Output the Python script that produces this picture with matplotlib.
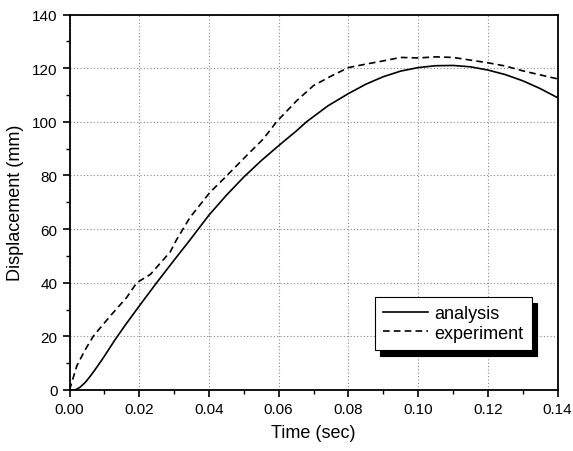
import matplotlib.pyplot as plt
import numpy as np

plt.rcParams['font.family'] = ['Liberation Sans', 'DejaVu Sans']

# analysis curve
t_an = [0.0, 0.0016, 0.003, 0.0045, 0.006, 0.008, 0.01, 0.0131, 0.016, 0.02, 0.025, 0.03,
        0.0346, 0.04, 0.045, 0.05, 0.055, 0.06, 0.065, 0.068, 0.0742, 0.08, 0.085,
        0.09, 0.095, 0.10, 0.105, 0.11, 0.115, 0.12, 0.125, 0.13, 0.135, 0.14]
d_an = [0.0, 0.0, 1.0, 2.8, 5.2, 8.8, 12.6, 18.8, 24.2, 31.3, 40.0, 48.4,
        56.0, 65.2, 72.6, 79.4, 85.5, 91.1, 96.5, 100.0, 106.0, 110.5, 114.0,
        116.8, 118.9, 120.2, 120.9, 121.0, 120.5, 119.3, 117.6, 115.3, 112.4, 109.0]

# experiment curve
t_ex = [0.0, 0.0021, 0.0045, 0.0069, 0.0117, 0.0164, 0.0193, 0.0232, 0.0289, 0.0307,
        0.0346, 0.0403, 0.0442, 0.047, 0.0508, 0.0556, 0.0594, 0.0652, 0.07, 0.075,
        0.08, 0.085, 0.09, 0.095, 0.10, 0.105, 0.11, 0.115, 0.12, 0.125, 0.13, 0.135, 0.14]
d_ex = [0.0, 9.0, 15.0, 20.2, 27.6, 34.5, 40.0, 43.1, 51.5, 56.0,
        64.4, 73.7, 78.7, 82.4, 87.4, 93.6, 100.0, 107.9, 113.5, 117.0,
        120.2, 121.5, 122.7, 124.0, 123.8, 124.2, 124.0, 123.0, 122.0, 120.8, 119.0, 117.5, 116.0]


def grafica():
    fig = plt.figure(figsize=(5.73, 4.52), dpi=100)
    ax = fig.add_axes([0.1213, 0.135, 0.8517, 0.8307])

    ax.plot(t_an, d_an, color='black', lw=1.2, label='analysis')
    ax.plot(t_ex, d_ex, color='black', lw=1.2, ls=(0, (4, 2.5)), label='experiment')

    ax.set_xlim(0, 0.14)
    ax.set_ylim(0, 140)
    ax.set_xticks(np.arange(0, 0.1401, 0.02))
    ax.set_xticks(np.arange(0, 0.1401, 0.01), minor=True)
    ax.set_yticks(np.arange(0, 141, 20))
    ax.set_yticks(np.arange(0, 141, 10), minor=True)
    ax.xaxis.set_major_formatter(plt.FormatStrFormatter('%.2f'))
    ax.tick_params(which='major', direction='out', length=5, width=1.2, labelsize=11)
    ax.tick_params(which='minor', direction='out', length=3, width=1.0)
    ax.grid(True, which='major', color='#888888', ls=(0, (1, 2)), lw=0.8)

    for s in ax.spines.values():
        s.set_linewidth(1.3)

    ax.set_xlabel('Time (sec)', fontsize=13, labelpad=6)
    ax.set_ylabel('Displacement (mm)', fontsize=13, labelpad=6)

    leg = ax.legend(loc='lower left', bbox_to_anchor=(0.626, 0.107), fontsize=13,
                    fancybox=False, edgecolor='black', framealpha=1,
                    shadow={'color': 'black', 'alpha': 1, 'ox': 3.6, 'oy': -4.3},
                    handlelength=2.5, handletextpad=0.35, borderpad=0.45,
                    labelspacing=0.15, borderaxespad=0)
    leg.get_frame().set_linewidth(0.8)

    fig.savefig('out.png', dpi=100)


grafica()
